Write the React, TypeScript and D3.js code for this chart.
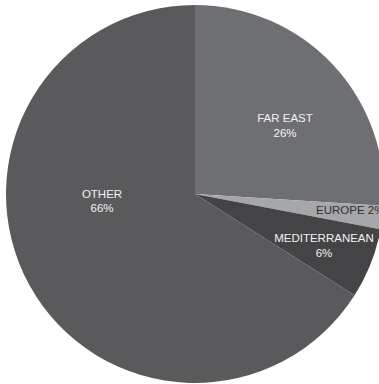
import React from "react";
import * as d3 from "d3";

const categories = ["FAR EAST", "EUROPE", "MEDITERRANEAN", "OTHER"];
const values = [26, 2, 6, 66];
const colors = ["#6e6f72", "#a6a7a9", "#444446", "#5a5a5c"];
const textColors = ["#f2f2f2", "#2e2e30", "#f2f2f2", "#f2f2f2"];
// label anchor offsets from pie centre (first baseline)
const labelOffsets: [number, number][] = [
  [90, -71.7],
  [121, 20],
  [129, 48.3],
  [-93, 4],
];
const labelAnchorsText = ["middle", "start", "middle", "middle"];
const twoLine = [true, false, true, true];

const W = 379;
const H = 384;
const cx = 195;
const cy = 194;
const R = 189;

export default function App() {
  const pie = d3
    .pie<number>()
    .sort(null)
    .startAngle(0)
    .endAngle(2 * Math.PI)(values);
  const arc = d3.arc<d3.PieArcDatum<number>>().innerRadius(0).outerRadius(R);

  return (
    <svg
      width={W}
      height={H}
      style={{ position: "absolute", left: 0, top: 0, fontFamily: "'Liberation Sans', Arial, Helvetica, sans-serif" }}
    >
      <rect width={W} height={H} fill="#ffffff" />
      <g transform={`translate(${cx},${cy})`}>
        {pie.map((d, i) => (
          <path key={i} d={arc(d) || ""} fill={colors[i]} />
        ))}
        {pie.map((d, i) => {
          const [x, y] = labelOffsets[i];
          const pct = `${values[i]}%`;
          if (twoLine[i]) {
            return (
              <text
                key={i}
                x={x}
                y={y}
                fill={textColors[i]}
                fontSize={11.5}
                textAnchor={labelAnchorsText[i]}
              >
                <tspan x={x} y={y}>{categories[i]}</tspan>
                <tspan x={x} dy={14.4}>{pct}</tspan>
              </text>
            );
          }
          return (
            <text
              key={i}
              x={x}
              y={y}
              fill={textColors[i]}
              fontSize={11.5}
              textAnchor={labelAnchorsText[i]}
            >
              {`${categories[i]} ${pct}`}
            </text>
          );
        })}
      </g>
    </svg>
  );
}
